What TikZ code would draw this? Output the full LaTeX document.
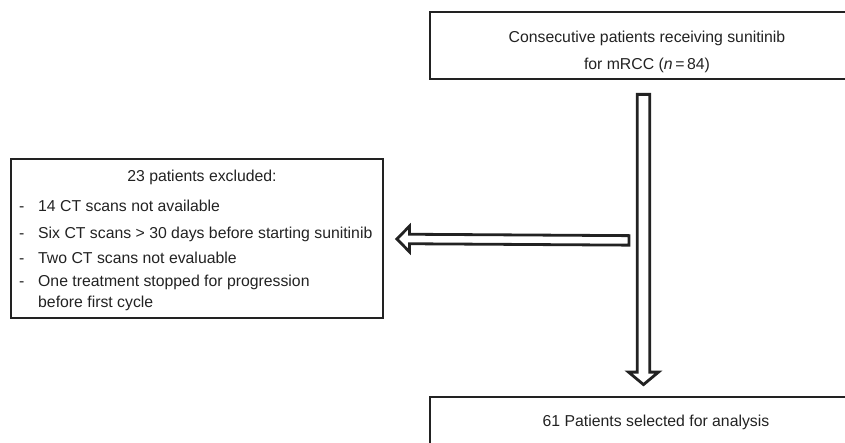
\documentclass[tikz,border=0pt]{standalone}
\usepackage{fontspec}
\setmainfont{Liberation Sans}
\usetikzlibrary{positioning,calc}

\definecolor{ink}{HTML}{222222}

\begin{document}
\begin{tikzpicture}[x=1pt,y=-1pt,
  box/.style={draw=ink, line width=2.8pt, rectangle, inner sep=0pt, align=center,
    font=\fontsize{15.8}{27}\selectfont, text=ink},
  item/.style={anchor=west, inner sep=0pt, text height=11pt, text depth=3pt,
    font=\fontsize{15.8}{20}\selectfont, text=ink},
  blockarrow/.style={draw=ink, line width=2.8pt, fill=white, line join=miter}]
\useasboundingbox (0,0) rectangle (845,443);
\clip (0,0) rectangle (845,443);

% boxes
\node[box, minimum width=434pt, minimum height=67pt] (cohort) at (647,45.5) {};
\node[box, anchor=center, draw=none] (cohorttext) at ($(cohort.center)+(0,6.5)$)
  {Consecutive patients receiving sunitinib\\for mRCC (\textit{n}\,=\,84)};
\node[box, minimum width=372pt, minimum height=159pt] (excluded) at (197,238.5) {};
\node[box, minimum width=452pt, minimum height=50pt] (selected) at (656,422)
  {61 Patients selected for analysis};

% text of the excluded box
\node[item, anchor=center] (exhead) at (202,178) {23 patients excluded:};
\foreach \ypos/\txt [count=\i] in {208/14 CT scans not available,
    235/Six CT scans > 30 days before starting sunitinib,
    260/Two CT scans not evaluable,
    283/One treatment stopped for progression}{
  \node[item] (dash\i) at (19,\ypos) {-};
  \node[item] (reason\i) at (38,\ypos) {\txt};
}
\node[item] (reason4b) at (38,303) {before first cycle};

% hollow arrows
\coordinate (downtop) at ($(cohort.south)+(-3.5,14)$);
\coordinate (downtip) at ($(selected.north)+(-12.5,-11)$);
\draw[blockarrow] ($(downtop)+(-6.25,0)$) -- ($(downtip)+(-6.25,-12.5)$)
  -- ($(downtip)+(-15,-12.5)$) -- (downtip) -- ($(downtip)+(15,-12.5)$)
  -- ($(downtip)+(6.25,-12.5)$) -- ($(downtop)+(6.25,0)$) -- cycle;

\coordinate (lefttail) at ($(downtop)+(-14.5,146)$);
\coordinate (lefttip) at ($(excluded.east)+(12.5,0.5)$);
\draw[blockarrow] ($(lefttail)+(0,-4.75)$) -- ($(lefttip)+(12.5,-4.75)$)
  -- ($(lefttip)+(12.5,-12.75)$) -- (lefttip) -- ($(lefttip)+(12.5,12.75)$)
  -- ($(lefttip)+(12.5,4.75)$) -- ($(lefttail)+(0,4.75)$) -- cycle;
\end{tikzpicture}
\end{document}
